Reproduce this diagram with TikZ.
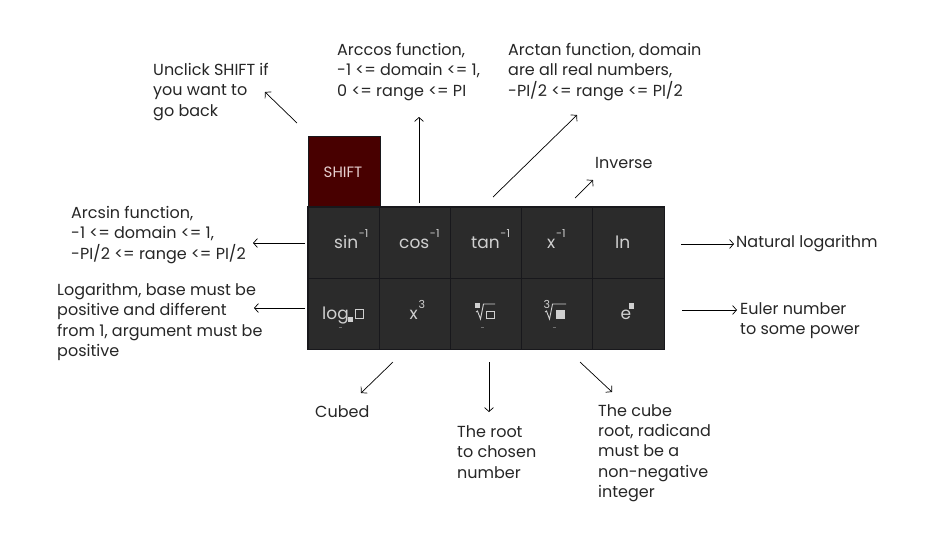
\documentclass[tikz,border=0pt]{standalone}
\usepackage{fontspec}
\setmainfont{Poppins}
\usetikzlibrary{arrows.meta}
\definecolor{cellbg}{HTML}{2B2B2B}
\definecolor{cellline}{HTML}{18181C}
\definecolor{shiftbg}{HTML}{480000}
\definecolor{keytxt}{HTML}{D0D0D0}
\definecolor{shifttxt}{HTML}{E6CFCF}
\definecolor{labtxt}{HTML}{262626}
\definecolor{dashgray}{HTML}{707070}
\tikzset{
  lab/.style={font=\fontsize{16}{20.3}\selectfont, text=labtxt, align=left, inner sep=0pt, anchor=west},
  cell/.style={draw=cellline, fill=cellbg, line width=1pt, minimum width=71.2pt, minimum height=71pt, inner sep=0pt},
  keyt/.style={font=\fontsize{17}{17}\selectfont, text=keytxt, inner sep=0pt},
  supt/.style={font=\fontsize{11}{11}\selectfont, text=keytxt, inner sep=0pt},
  arr/.style={-{Straight Barb[length=4pt,width=9pt]}, line width=0.7pt, draw=black},
  keyline/.style={draw=keytxt, line width=0.9pt}
}
\begin{document}
\begin{tikzpicture}[x=1pt,y=-1pt]
\useasboundingbox[fill=white] (0,0) rectangle (947,533);

% keys
\node[cell, fill=shiftbg, minimum width=72pt] (shift) at (344,171.5) {};
\node[font=\fontsize{15}{15}\selectfont, text=shifttxt, inner sep=0pt] (shiftt) at (343,172) {SHIFT};
\foreach \i/\cx in {1/343.6,2/414.8,3/486,4/557.2,5/628.4}{
  \node[cell] (a\i) at (\cx,242.5) {};
  \node[cell] (b\i) at (\cx,313.5) {};
}
\draw[draw=cellline, line width=1.2pt] (a1.north west) rectangle (b5.south east);

% row 1 contents
\node[keyt, anchor=base west] (tsin) at (334,248) {sin};
\node[supt, anchor=north west] (ssin) at ([xshift=0.3pt]tsin.east |- 0,229.5) {-1};
\node[keyt, anchor=base west] (tcos) at (399,248) {cos};
\node[supt, anchor=north west] (scos) at ([xshift=0.3pt]tcos.east |- 0,229.5) {-1};
\node[keyt, anchor=base west] (ttan) at (471,248) {tan};
\node[supt, anchor=north west] (stan) at ([xshift=0.3pt]ttan.east |- 0,229.5) {-1};
\node[keyt, anchor=base west] (tx) at (547,248) {x};
\node[supt, anchor=north west] (sx) at ([xshift=0.3pt]tx.east |- 0,229.5) {-1};
\node[keyt, anchor=base west] (tln) at (615,248) {ln};

% row 2 contents
\node[keyt, anchor=base west] (tlog) at (322,319) {log};
\fill[keytxt] (348,317) rectangle (353,322);
\draw[keyline] (355.5,309.5) rectangle (363.5,318.5);
\node[keyt, anchor=base west] (tx3) at (409.5,319) {x};
\node[supt, anchor=north west] (s3) at ([xshift=0.3pt]tx3.east |- 0,300.5) {3};
\fill[keytxt] (475,303) rectangle (479.5,308);
\draw[keyline] (476,312) -- (477.5,311) -- (480.5,319) -- (483.5,304) -- (495,304);
\draw[keyline] (486.5,311.5) rectangle (494,318.5);
\node[supt, anchor=north west] (s3r) at (543.5,300) {3};
\draw[keyline] (545,312) -- (546.5,311) -- (549.5,319) -- (552.5,304) -- (566,304);
\fill[keytxt] (556,310) rectangle (565,319);
\node[keyt, anchor=base west] (te) at (620.5,319) {e};
\fill[keytxt] (629,303) rectangle (634,309);
\foreach \dx in {340,482,554}{\draw[dashgray, line width=0.6pt] (\dx-1.5,327.5) -- (\dx+1.5,327.5);}

% labels
\node[lab] (unclick) at (153,92) {Unclick SHIFT if\\you want to\\go back};
\node[lab] (arcsin) at (71,235) {Arcsin function,\\-1 <= domain <= 1,\\-PI/2 <= range <= PI/2};
\node[lab] (logl) at (57,322) {Logarithm, base must be\\positive and different\\from 1, argument must be\\positive};
\node[lab] (arccos) at (337,72) {Arccos function,\\-1 <= domain <= 1,\\0 <= range <= PI};
\node[lab] (arctan) at (508,72) {Arctan function, domain\\are all real numbers,\\-PI/2 <= range <= PI/2};
\node[lab] (inverse) at (595,163) {Inverse};
\node[lab] (natlog) at (736,244) {Natural logarithm};
\node[lab] (euler) at (740,321) {Euler number\\to some power};
\node[lab] (cubed) at (315,412) {Cubed};
\node[lab] (rootl) at (457,452) {The root\\to chosen\\number};
\node[lab] (cuberoot) at (598,453) {The cube\\root, radicand\\must be a\\non-negative\\integer};

% connector ends
\coordinate (p1s) at (297,123); \coordinate (p1e) at (265,92);
\coordinate (p2s) at (305,243); \coordinate (p2e) at (253,243);
\coordinate (p3s) at (305,308); \coordinate (p3e) at (254,308);
\coordinate (p4s) at (419,203); \coordinate (p4e) at (419,117);
\coordinate (p5s) at (493,197); \coordinate (p5e) at (577,115);
\coordinate (p6s) at (575,198); \coordinate (p6e) at (593,180);
\coordinate (p7s) at (681,244); \coordinate (p7e) at (734,244);
\coordinate (p8s) at (682,310); \coordinate (p8e) at (737,310);
\coordinate (p9s) at (393,362); \coordinate (p9e) at (361,393);
\coordinate (p10s) at (489,362); \coordinate (p10e) at (489,412);
\coordinate (p11s) at (580,362); \coordinate (p11e) at (612,392);
\foreach \k in {1,...,11}{\draw[arr] (p\k s) -- (p\k e);}
\end{tikzpicture}
\end{document}
